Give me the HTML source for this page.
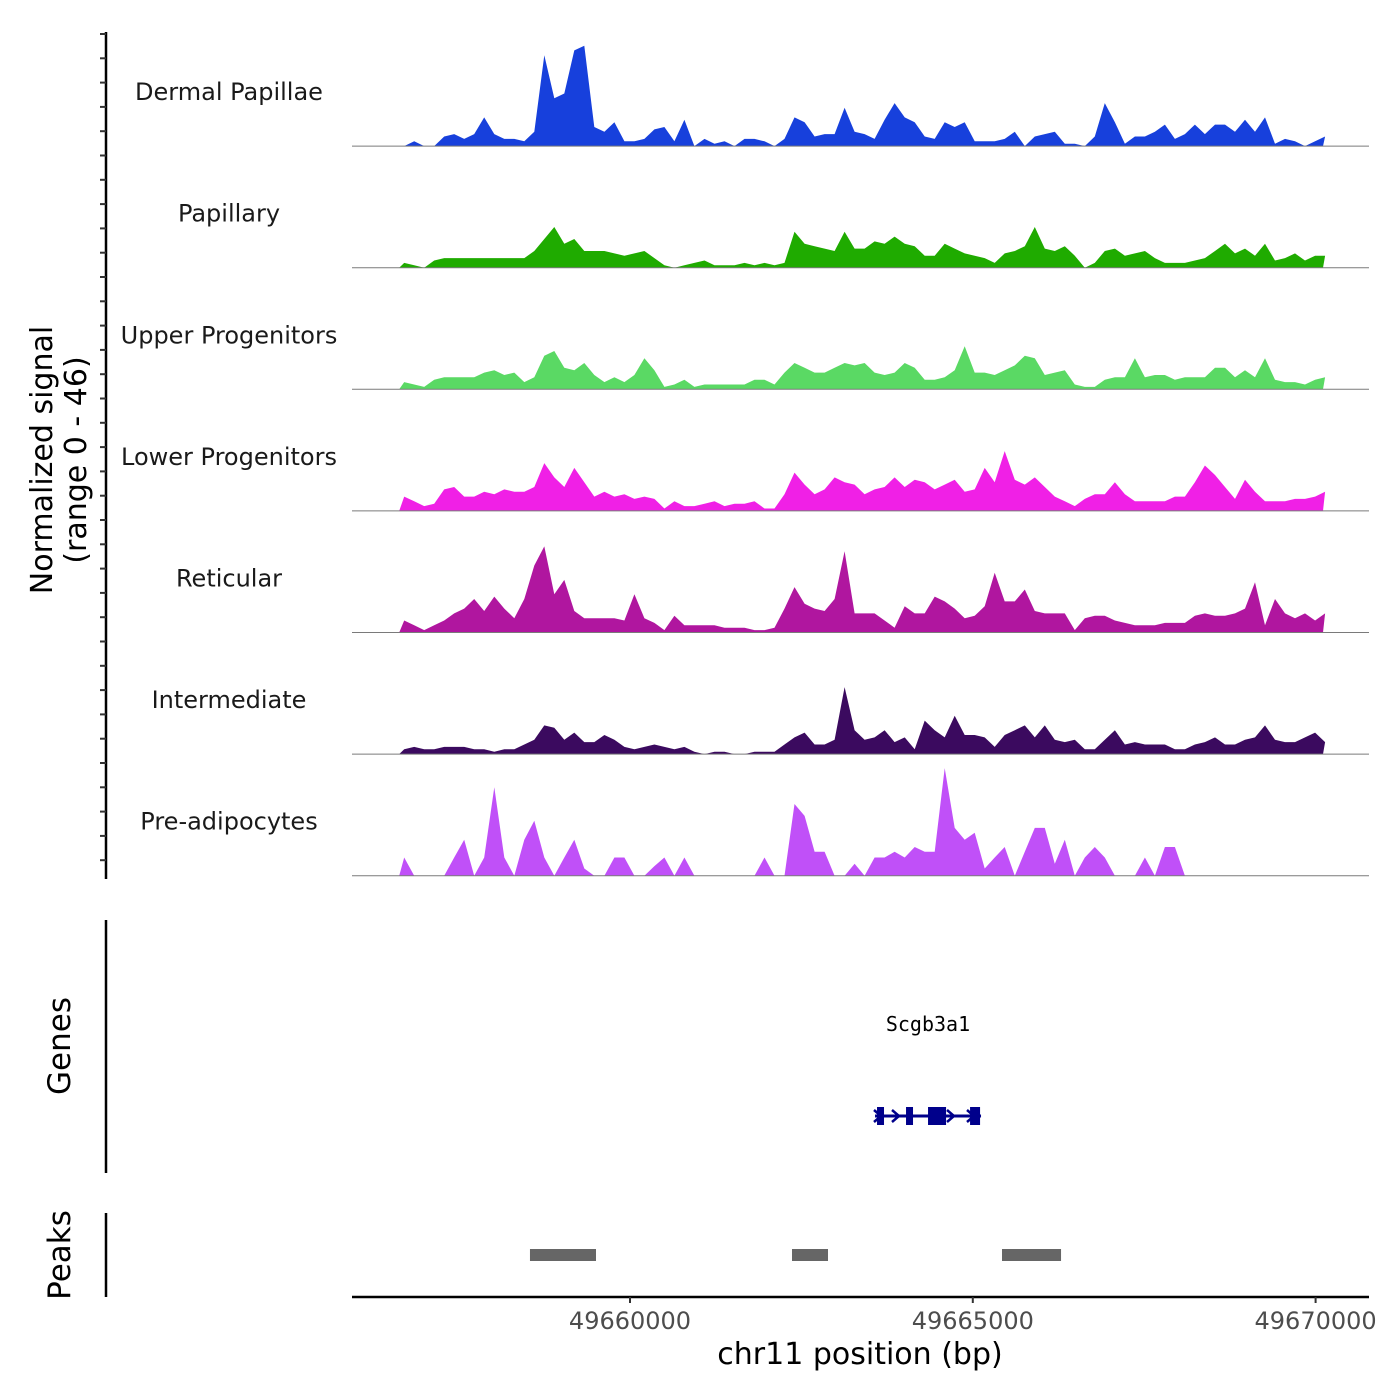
<!DOCTYPE html>
<html><head><meta charset="utf-8"><style>
html,body{margin:0;padding:0;background:#fff;}
svg{display:block;font-family:"DejaVu Sans","Liberation Sans",sans-serif;}
</style></head><body>
<svg id="chart" width="1400" height="1400" viewBox="0 0 1400 1400">
<g id="tracks"></g>
<g id="yaxis"></g>
<text x="57" y="460" font-size="30" fill="#000" text-anchor="middle" transform="rotate(-90 57 460)"><tspan x="57" dy="-5">Normalized signal</tspan><tspan x="57" dy="34">(range 0 - 46)</tspan></text>
<line x1="106" y1="920" x2="106" y2="1173" stroke="#000" stroke-width="2.5"/>
<text x="70" y="1046" font-size="31" text-anchor="middle" transform="rotate(-90 70 1046)">Genes</text>
<text x="928" y="1031" font-size="20" text-anchor="middle" font-family="'DejaVu Sans Mono','Liberation Mono',monospace">Scgb3a1</text>
<g id="gene"></g>
<line x1="106" y1="1213" x2="106" y2="1297" stroke="#000" stroke-width="2.5"/>
<text x="70" y="1255" font-size="31" text-anchor="middle" transform="rotate(-90 70 1255)">Peaks</text>
<g id="peaks"></g>
<line x1="352" y1="1297" x2="1369" y2="1297" stroke="#000" stroke-width="2.5"/>
<g id="xaxis"></g>
<text x="860" y="1364" font-size="30" text-anchor="middle">chr11 position (bp)</text>
</svg>
<script>
const binStart = 49656633;
const binSize = 146;
const trackNames = ["Dermal Papillae","Papillary","Upper Progenitors","Lower Progenitors","Reticular","Intermediate","Pre-adipocytes"];
const trackColors = ["#1740dc","#1fab00","#5ad964","#f020e6","#b0169f","#3b0a5f","#c050f8"];
const dermalPapillae = [0,2,0,0,4,5,3,5,12,5,3,3,2,6,38,20,22,40,42,8,6,10,2,2,3,7,8,2,11,0,3,1,2,0,3,3,2,0,3,12,10,4,5,5,16,6,5,3,11,18,12,10,4,3,10,8,10,2,2,2,3,6,0,4,5,6,1,1,0,4,18,10,1,4,4,6,9,3,5,9,5,9,9,6,11,6,12,1,3,2,0,2,4];
const papillary = [2,1,0,3,4,4,4,4,4,4,4,4,4,7,12,17,10,12,7,7,7,6,5,6,7,4,1,0,1,2,3,1,1,1,2,1,2,1,2,15,10,9,8,7,15,8,8,11,10,13,10,9,5,5,10,8,6,5,4,2,6,7,9,17,8,7,9,5,0,2,7,8,5,6,7,4,2,2,2,3,4,7,10,6,8,5,10,3,4,6,3,5,5];
const upperProgenitors = [3,2,1,4,5,5,5,5,7,8,6,7,3,5,14,16,9,8,11,6,3,5,3,6,13,8,1,2,4,1,2,2,2,2,2,4,4,2,7,11,9,7,7,9,11,10,11,7,6,7,11,9,4,4,5,8,18,7,7,6,8,10,14,13,6,7,8,2,1,1,4,5,5,13,5,6,6,4,5,5,5,9,9,5,8,5,13,4,3,3,2,4,5];
const lowerProgenitors = [6,4,2,3,9,10,6,6,8,7,9,8,8,10,20,14,10,18,12,6,8,6,7,5,6,5,1,4,2,2,3,4,2,3,3,4,1,1,7,16,11,7,9,14,12,11,7,9,10,14,10,13,12,9,11,13,8,9,18,12,25,13,11,14,10,6,4,2,5,7,7,12,7,4,4,4,4,6,6,12,19,15,10,5,13,8,4,4,4,5,5,6,8];
const reticular = [5,3,1,3,5,8,10,14,9,15,10,6,14,28,36,16,22,9,6,6,6,6,5,16,6,4,1,7,3,3,3,3,2,2,2,1,1,2,10,19,12,10,9,14,34,8,8,8,5,2,11,8,8,15,13,10,6,7,11,25,13,13,18,9,8,8,8,1,6,7,7,5,4,3,3,3,4,4,4,7,8,7,7,8,10,21,3,14,8,6,8,5,8];
const intermediate = [2,3,2,2,3,3,3,2,2,1,2,2,4,6,12,11,6,9,5,5,8,6,3,2,3,4,3,2,3,1,0,1,1,0,0,1,1,1,4,7,9,4,4,6,28,10,6,7,10,5,7,2,14,10,7,16,8,8,7,3,8,10,12,7,12,6,5,6,2,2,6,10,4,5,4,4,4,2,2,4,5,7,4,4,6,7,12,6,5,5,7,9,5];
const preAdipocytes = [7.6,0,0,0,0,7.6,15,0,7.6,37,7.6,0,15,23,7.6,0,7.6,15,3,0,0,7.6,7.6,0,0,4,7.6,0,7.6,0,0,0,0,0,0,0,7.6,0,0,30,25,10,10,0,0,5,0,7.6,7.6,10,7.6,12,10,10,45,20,15,18,3,7.6,12,0,10,20,20,5,15,0,7.6,12,7.6,0,0,0,7.6,0,12,12,0,0,0,0,0,0,0,0,0,0,0,0,0,0,0];
const trackData = [dermalPapillae,papillary,upperProgenitors,lowerProgenitors,reticular,intermediate,preAdipocytes];
const signalMax = 46;
const xTicks = [49660000,49665000,49670000];
const peakStarts = [49658541,49662363,49665426];
const peakEnds = [49659504,49662888,49666287];
const exonStarts = [49663603,49664026,49664347,49664960];
const exonEnds = [49663705,49664128,49664610,49665106];
const geneStart = 49663574;
const geneEnd = 49665120;

const NS="http://www.w3.org/2000/svg";
function X(bp){return 630+(bp-49660000)*0.06856;}
const trackTop=25, trackH=121.6, sigPx=110;
function Y(t,v){return trackTop+trackH*(t+1)-0.5 - v/signalMax*sigPx;}
function mk(tag,attrs,parent){const e=document.createElementNS(NS,tag);for(const k in attrs)e.setAttribute(k,attrs[k]);parent.appendChild(e);return e;}

const tg=document.getElementById('tracks');
trackData.forEach((arr,t)=>{
  const base=Y(t,0);
  const x0=X(binStart), x1=X(binStart+binSize*arr.length);
  let d=`M${x0.toFixed(1)},${base}`;
  arr.forEach((v,i)=>{
    const xa=X(binStart+binSize*i), xb=X(binStart+binSize*(i+1));
    const xc=(xa+xb)/2;
    d+=` L${xc.toFixed(1)},${Y(t,v).toFixed(1)}`;
  });
  d+=` L${Math.min(x1,1323).toFixed(1)},${base} Z`;
  const p=mk('path',{d:d,fill:trackColors[t],stroke:'none'},tg);
  
  
  const bl=mk('line',{x1:352,x2:1369,y1:base,y2:base,stroke:'#7a7a7a','stroke-width':1},tg);
  
  
  const lb=mk('text',{x:229,y:base-46,'font-size':24,'text-anchor':'middle',fill:'#1a1a1a'},tg);
  lb.textContent=trackNames[t];
  
  
});

const ya=document.getElementById('yaxis');
const al=mk('line',{x1:106,x2:106,y1:32,y2:879,stroke:'#000','stroke-width':2.5},ya);


for(let y=34;y<=879;y+=24.3){
  const tk=mk('line',{x1:100,x2:106,y1:y,y2:y,stroke:'#333','stroke-width':2},ya);
  
  
}

const xa=document.getElementById('xaxis');
xTicks.forEach(v=>{
  const x=X(v);
  const tk=mk('line',{x1:x,x2:x,y1:1297,y2:1303,stroke:'#333','stroke-width':2},xa);
  
  
  const tl=mk('text',{x:x,y:1329,'font-size':24,'text-anchor':'middle',fill:'#4d4d4d'},xa);
  tl.textContent=v;
  
  
});

const pg=document.getElementById('peaks');
peakStarts.forEach((s,i)=>{
  const r=mk('rect',{x:X(s),y:1249,width:X(peakEnds[i])-X(s),height:12,fill:'#666666'},pg);
  
  
});

const gg=document.getElementById('gene');
const gl=mk('line',{x1:X(geneStart),x2:X(geneEnd),y1:1116,y2:1116,stroke:'#00008b','stroke-width':3},gg);


[878,896,951,971].forEach(x=>{
  const a=mk('path',{d:`M${x-4},1110 L${x+3},1116 L${x-4},1122`,fill:'none',stroke:'#00008b','stroke-width':2.5},gg);
  
  
});
exonStarts.forEach((s,i)=>{
  const r=mk('rect',{x:X(s),y:1107,width:X(exonEnds[i])-X(s),height:18,fill:'#00008b'},gg);
  
  
});
</script>
</body></html>
